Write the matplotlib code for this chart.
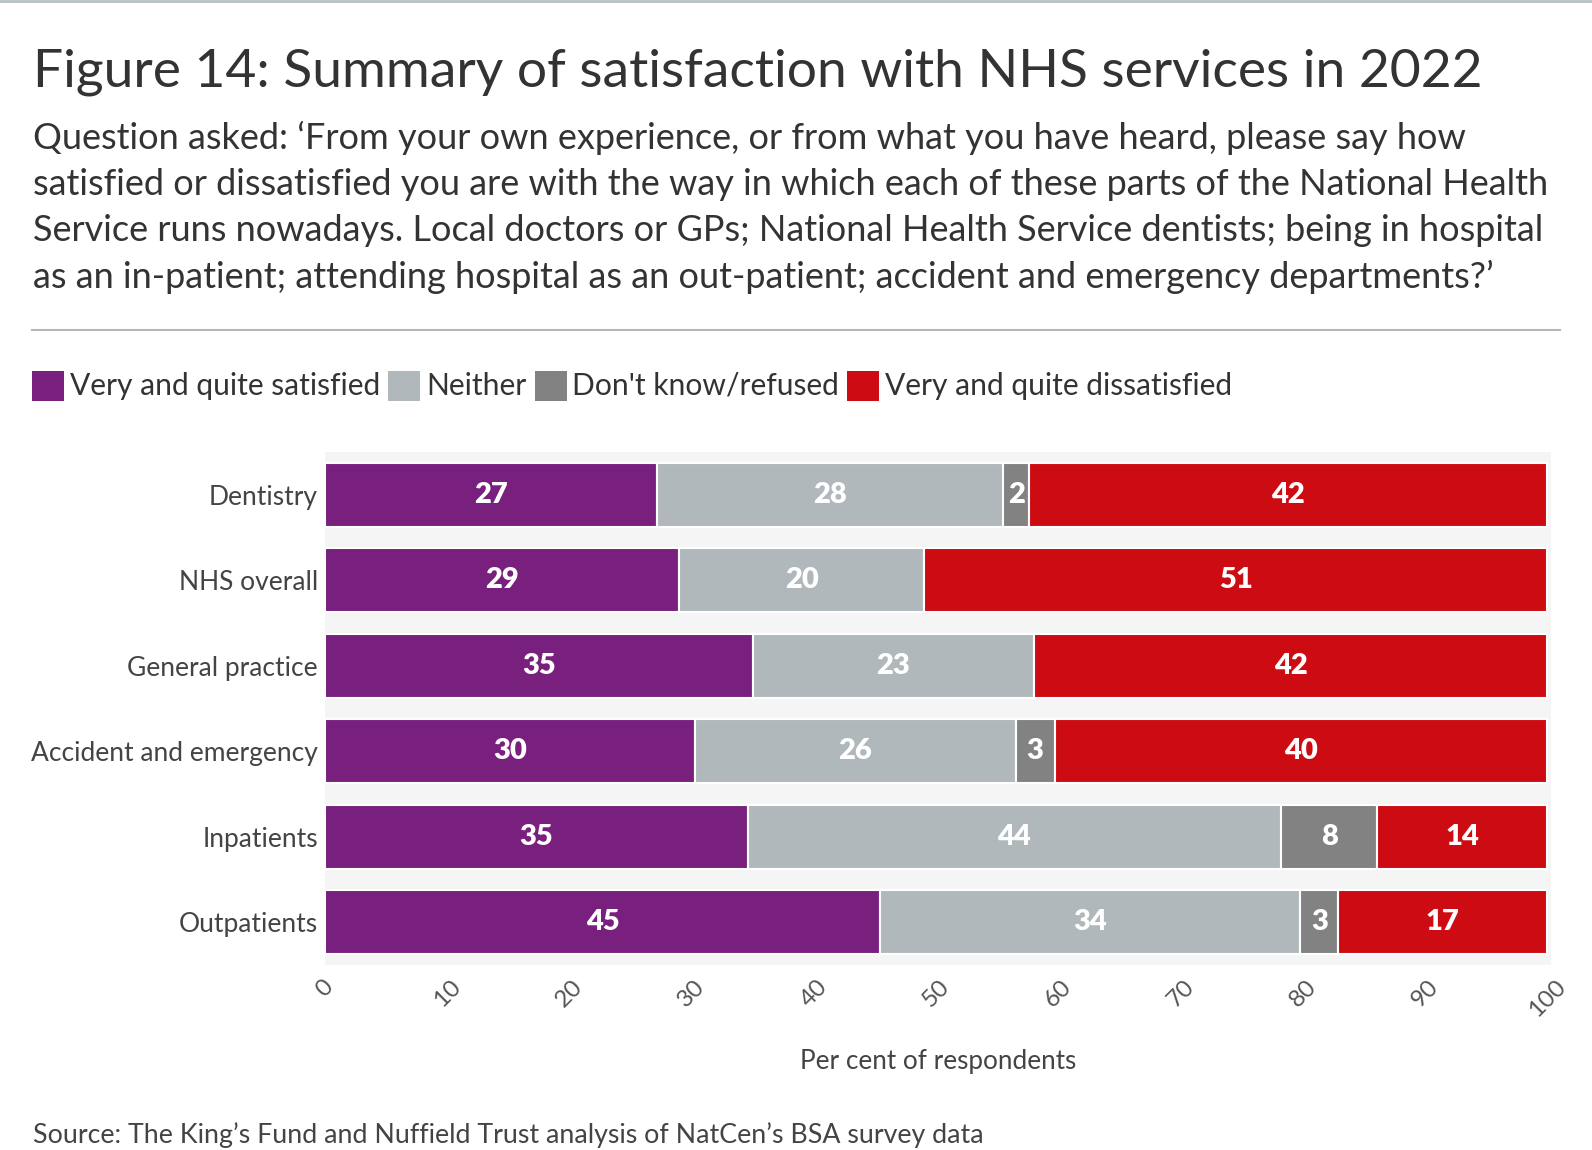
import matplotlib.pyplot as plt
from matplotlib.patches import Rectangle
from matplotlib.lines import Line2D

plt.rcParams['font.family'] = ['Lato', 'DejaVu Sans']

# data (per cent of respondents)
categories = ['Dentistry', 'NHS overall', 'General practice',
              'Accident and emergency', 'Inpatients', 'Outpatients']
satisfied = [27.2, 29.0, 35.0, 30.3, 34.6, 45.4]
neither = [28.3, 20.0, 23.0, 26.2, 43.6, 34.4]
dont_know = [2.1, 0.0, 0.0, 3.2, 7.9, 3.1]
dissatisfied = [42.4, 51.0, 42.0, 40.3, 13.9, 17.1]

series = [('Very and quite satisfied', satisfied, '#79207f'),
          ('Neither', neither, '#b0b8bc'),
          ("Don't know/refused", dont_know, '#828282'),
          ('Very and quite dissatisfied', dissatisfied, '#cc0c12')]

W, H = 1592, 1150
fig = plt.figure(figsize=(W / 100, H / 100), dpi=100)

# header
fig.text(33 / W, 1 - 87 / H, 'Figure 14: Summary of satisfaction with NHS services in 2022',
         fontsize=38.4, color='#333333', va='baseline')
subtitle = ("Question asked: \u2018From your own experience, or from what you have heard, please say how\n"
            "satisfied or dissatisfied you are with the way in which each of these parts of the National Health\n"
            "Service runs nowadays. Local doctors or GPs; National Health Service dentists; being in hospital\n"
            "as an in-patient; attending hospital as an out-patient; accident and emergency departments?\u2019")
fig.text(33 / W, 1 - 121 / H, subtitle, fontsize=26, color='#333333', va='top',
         linespacing=1.47)

fig.add_artist(Line2D([0, 1], [1 - 1 / H, 1 - 1 / H], color='#b8c0c4', lw=2))
fig.add_artist(Line2D([32 / W, 1560 / W], [1 - 330 / H, 1 - 330 / H], color='#b0b8bc', lw=1.5))

# legend drawn by hand
fig.canvas.draw()
renderer = fig.canvas.get_renderer()
x = 32
ly = 386
for name, _, col in series:
    fig.add_artist(Rectangle((x / W, 1 - (ly + 15) / H), 32 / W, 30 / H,
                             transform=fig.transFigure, color=col, lw=0))
    t = fig.text((x + 38) / W, 1 - ly / H, name, fontsize=21.6, color='#333333', va='center')
    bb = t.get_window_extent(renderer)
    x = x + 38 + bb.width + 8

# bars
ax = fig.add_axes([325 / W, 185 / H, (1551 - 325) / W, (965 - 452) / H])
ax.set_facecolor('#f5f5f5')
ypos = list(range(len(categories)))
left = [0.0] * len(categories)
for name, vals, col in series:
    ax.barh(ypos, vals, left=left, height=0.75, color=col, edgecolor='white', linewidth=1.5)
    for i, v in enumerate(vals):
        if v > 0:
            ax.text(left[i] + v / 2, i, f'{v:.0f}', ha='center', va='center',
                    color='white', fontsize=21, fontweight='heavy')
    left = [l + v for l, v in zip(left, vals)]

ax.set_xlim(0, 100.3)
ax.set_ylim(len(categories) - 0.5, -0.5)
ax.set_yticks(ypos)
ax.set_yticklabels(categories, fontsize=19, color='#444444')
ax.set_xticks(range(0, 101, 10))
ax.set_xticklabels([str(v) for v in range(0, 101, 10)], rotation=45, ha='center',
                   fontsize=17.5, color='#555555')
ax.tick_params(length=0, axis='y', pad=5)
ax.tick_params(length=0, axis='x', pad=8)
for s in ax.spines.values():
    s.set_visible(False)
ax.set_xlabel('Per cent of respondents', fontsize=18.8, color='#444444', labelpad=20)

fig.text(33 / W, 1 - 1143 / H, "Source: The King\u2019s Fund and Nuffield Trust analysis of NatCen\u2019s BSA survey data",
         fontsize=19.3, color='#444444', va='baseline')

fig.savefig('out.png', dpi=100, facecolor='white')
